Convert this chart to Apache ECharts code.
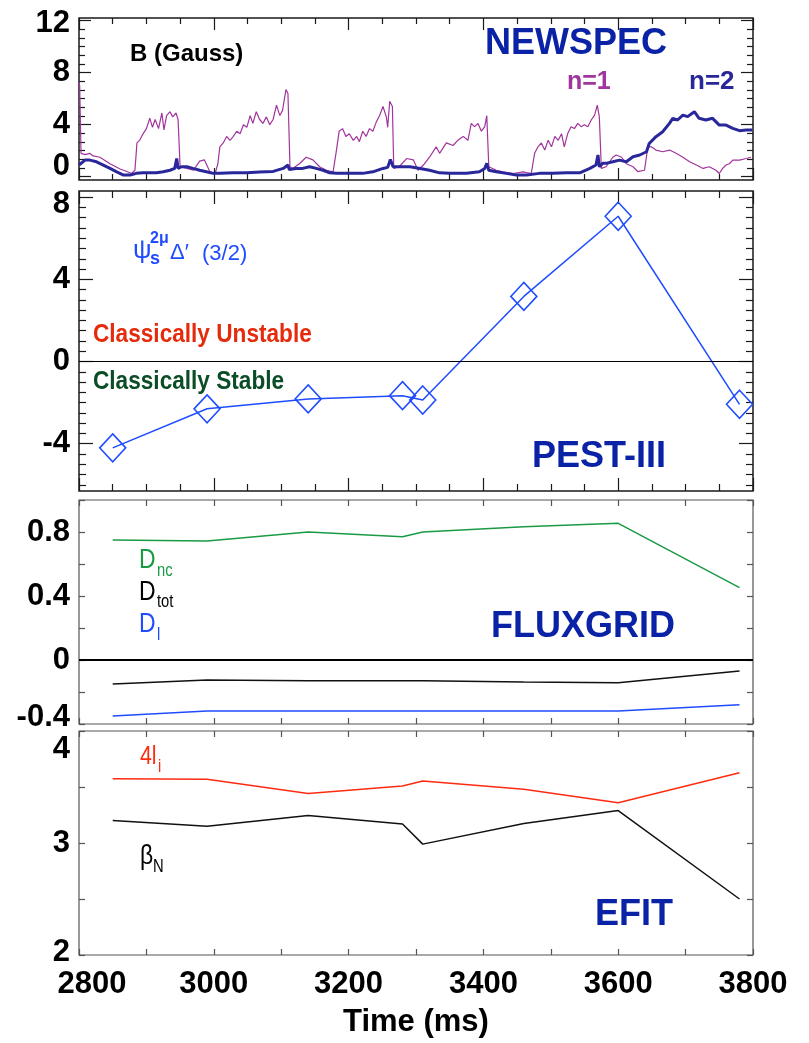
<!DOCTYPE html>
<html><head><meta charset="utf-8">
<script src="https://cdn.jsdelivr.net/npm/echarts@6/dist/echarts.min.js"></script>
<style>html,body{margin:0;padding:0;background:#fff}#c{width:809px;height:1043px}</style>
</head><body><div id="c"></div>
<script>
const SANS = "'Liberation Sans',Arial,Helvetica,sans-serif";

// ---------- Panel 1: NEWSPEC, B (Gauss) ----------
const n1Time = [2800,2801,2803,2809,2816,2821,2831,2846,2861,2871,2878,2883,2886,2890,2895,2900,2905,2909,2913,2918,2923,2926,2930,2935,2939,2944,2947,2950,2960,2970,2979,2986,2994,3002,3006,3009,3014,3019,3024,3029,3034,3039,3044,3049,3054,3058,3063,3068,3073,3078,3083,3088,3093,3098,3102,3107,3110,3113,3117,3127,3137,3147,3157,3167,3177,3182,3186,3191,3196,3201,3207,3212,3216,3221,3226,3231,3236,3241,3246,3251,3256,3258,3261,3265,3267,3275,3286,3296,3303,3311,3320,3330,3335,3345,3355,3362,3370,3377,3382,3387,3392,3397,3402,3405,3408,3419,3429,3444,3459,3471,3476,3481,3486,3491,3496,3501,3506,3511,3516,3520,3525,3530,3535,3540,3545,3550,3555,3560,3565,3569,3572,3575,3582,3592,3597,3605,3612,3622,3629,3639,3644,3649,3656,3666,3676,3686,3696,3706,3716,3726,3735,3745,3750,3755,3760,3765,3770,3780,3790,3797];
const n1Val = [7.3,7.0,1.8,1.7,1.8,1.6,1.5,1.0,0.6,0.4,0.25,0.5,2.6,2.8,3.3,3.7,4.5,3.8,4.4,3.7,4.9,3.6,4.7,5.0,4.6,4.9,4.4,0.77,0.64,0.5,1.2,1.3,0.4,0.25,1.0,2.3,2.6,3.1,2.8,3.1,3.5,3.3,4.0,3.8,4.7,4.1,5.0,4.4,4.1,4.6,4.0,4.4,5.5,4.7,5.1,6.7,6.4,0.77,0.64,1.0,1.5,1.3,0.77,0.5,0.38,2.05,3.5,3.7,3.1,3.3,2.8,3.1,2.7,3.5,3.1,3.7,3.5,4.2,4.7,5.4,4.6,3.8,5.8,5.4,0.64,0.77,1.4,1.3,0.5,0.9,1.5,2.3,1.8,2.6,2.4,2.8,3.1,2.8,4.1,3.85,4.1,3.5,3.85,4.7,0.77,0.5,0.38,0.25,0.38,0.25,1.8,2.3,2.6,2.05,2.8,2.3,3.1,2.8,3.3,2.3,3.3,3.85,3.7,4.1,3.85,4.0,3.85,4.36,4.74,5.5,4.6,0.64,0.77,1.5,1.67,1.5,1.0,0.77,0.4,0.5,2.3,2.3,2.05,1.92,2.05,1.8,1.5,1.15,0.9,0.64,0.77,0.5,0.25,0.64,0.9,1.0,1.28,1.28,1.4,1.5];
const n2Time = [2800,2801,2809,2816,2826,2836,2846,2856,2866,2876,2885,2895,2905,2915,2925,2935,2942,2945,2947,2952,2960,2969,2979,2989,2999,3009,3028,3049,3068,3088,3103,3110,3112,3122,3132,3142,3152,3162,3172,3182,3201,3221,3236,3251,3258,3262,3266,3275,3291,3306,3320,3335,3350,3375,3394,3402,3405,3408,3419,3434,3449,3464,3483,3503,3523,3543,3558,3567,3570,3572,3577,3582,3592,3602,3612,3622,3632,3642,3646,3656,3666,3676,3681,3688,3696,3703,3713,3720,3730,3740,3750,3760,3770,3780,3790,3799];
const n2Val = [0.9,1.0,1.28,1.28,1.15,0.9,0.64,0.38,0.13,0.13,0.26,0.3,0.3,0.3,0.38,0.5,0.64,1.4,0.64,0.77,0.77,0.64,0.5,0.38,0.26,0.26,0.3,0.3,0.36,0.41,0.64,0.9,0.56,0.64,0.64,0.77,0.64,0.5,0.3,0.26,0.26,0.26,0.38,0.64,0.72,1.33,0.77,0.77,0.77,0.64,0.5,0.3,0.26,0.26,0.38,0.64,1.03,0.5,0.38,0.26,0.13,0.13,0.26,0.26,0.3,0.3,0.64,0.9,1.67,0.77,1.03,1.03,1.15,1.28,1.15,1.54,1.67,1.92,2.56,3.08,3.46,4.1,4.49,4.36,4.74,4.62,5.0,4.49,4.36,4.49,3.97,3.97,3.72,3.54,3.59,3.59];

// ---------- Panels 2-4 share the analysis times ----------
const runTime = [2850,2990,3140,3280,3310,3460,3600,3780];
// PEST-III  psi_s^{2mu} Delta' (3/2)
const pestVal = [-4.2,-2.3,-1.82,-1.66,-1.87,3.17,7.07,-2.08];
// FLUXGRID
const dncVal  = [0.75,0.744,0.80,0.77,0.80,0.833,0.854,0.452];
const dtotVal = [-0.15,-0.125,-0.129,-0.129,-0.129,-0.1375,-0.142,-0.069];
const dlVal   = [-0.35,-0.319,-0.319,-0.319,-0.319,-0.319,-0.319,-0.279];
// EFIT
const li4Val  = [3.574,3.57,3.443,3.509,3.553,3.479,3.36,3.628];
const betaVal = [3.2,3.15,3.246,3.17,2.99,3.175,3.29,2.5];

// ---------- Tick labels ----------
const xTickLabels = [2800,3000,3200,3400,3600,3800];
const p1YLabels = [0,4,8,12];
const p2YLabels = [-4,0,4,8];
const p3YLabels = [-0.4,0,0.4,0.8];
const p4YLabels = [2,3,4];

const zip = (a,b) => a.map((t,i)=>[t,b[i]]);
const range = (a,b,s) => { const r=[]; const n=Math.round((b-a)/s); for(let k=0;k<=n;k++) r.push(+(a+k*s).toFixed(4)); return r; };
const without = (arr, ex) => arr.filter(v => !ex.some(e => Math.abs(e-v)<1e-6));

const grids = [
  {left:79, width:674, top:18,  height:162, show:true, borderColor:'#1a1a1a', borderWidth:1.5},
  {left:79, width:674, top:191, height:300, show:true, borderColor:'#1a1a1a', borderWidth:1.5},
  {left:79, width:674, top:500, height:224, show:true, borderColor:'#555', borderWidth:1.2},
  {left:79, width:674, top:731, height:224, show:true, borderColor:'#555', borderWidth:1.2}
].map(g => Object.assign(g, {outerBoundsMode:'none', containLabel:false, backgroundColor:'rgba(0,0,0,0)'}));

const xAxis = [], yAxis = [];
function baseAxis(gi, pos, min, max, ticks, len, color) {
  return {type:'value', gridIndex:gi, position:pos, min, max,
    axisLine:{show:false, onZero:false}, splitLine:{show:false},
    axisTick:{show:true, inside:true, length:len, customValues:ticks, lineStyle:{color, width:1.2}},
    axisLabel:{show:false}};
}
function addX(gi, pos, ticks, len, color, extra) { xAxis.push(Object.assign(baseAxis(gi,pos,2800,3800,ticks,len,color), extra||{})); return xAxis.length-1; }
function addY(gi, pos, min, max, ticks, len, color, extra) { yAxis.push(Object.assign(baseAxis(gi,pos,min,max,ticks,len,color), extra||{})); return yAxis.length-1; }

const LBL = {fontFamily:SANS, fontWeight:'bold', fontSize:31, color:'#000'};
function yLabel(labels, shifts) {
  const rich = {};
  const keys = Object.keys(shifts);
  keys.forEach((k,i) => {
    const d = shifts[k];
    rich['s'+i] = Object.assign({}, LBL, {padding: d>0 ? [2*d,0,0,0] : [0,0,-2*d,0]});
  });
  return Object.assign({show:true, customValues:labels, margin:9,
    formatter: v => { const i = keys.findIndex(k => Math.abs(+k - v) < 1e-6); return i<0 ? String(v) : '{s'+i+'|'+v+'}'; },
    rich}, LBL);
}

// Panel 1 axes
const x200 = range(2800,3800,200), x50 = without(range(2800,3800,50), x200), x100 = range(2800,3800,100);
const X0 = addX(0,'bottom',x200,12,'#1a1a1a'); addX(0,'bottom',x50,6,'#1a1a1a'); addX(0,'top',x200,12,'#1a1a1a'); addX(0,'top',x50,6,'#1a1a1a');
const p1Maj = [0,4,8,12], p1Min = without(range(0,12,2/3), p1Maj);
const Y0 = addY(0,'left',-0.25,12.2,p1Maj,12,'#1a1a1a',{axisLabel:yLabel(p1YLabels,{0:-10.5,12:3})});
addY(0,'left',-0.25,12.2,p1Min,6,'#1a1a1a'); addY(0,'right',-0.25,12.2,p1Maj,12,'#1a1a1a'); addY(0,'right',-0.25,12.2,p1Min,6,'#1a1a1a');

// Panel 2 axes
const X1 = addX(1,'bottom',x200,13,'#1a1a1a'); addX(1,'bottom',x50,7,'#1a1a1a'); addX(1,'top',x200,13,'#1a1a1a'); addX(1,'top',x50,7,'#1a1a1a');
const p2Maj = [-4,0,4,8], p2Min = without(range(-6,8,0.5), p2Maj);
const Y1 = addY(1,'left',-6.3,8.3,p2Maj,14,'#1a1a1a',{axisLabel:yLabel(p2YLabels,{8:7})});
addY(1,'left',-6.3,8.3,p2Min,7,'#1a1a1a'); addY(1,'right',-6.3,8.3,p2Maj,14,'#1a1a1a'); addY(1,'right',-6.3,8.3,p2Min,7,'#1a1a1a');

// Panel 3 axes
const X2 = addX(2,'bottom',x100,6,'#555'); addX(2,'top',x100,6,'#555');
const p3T = range(-0.4,1.0,0.2);
const Y2 = addY(2,'left',-0.4,1.0,p3T,6,'#555',{axisLabel:yLabel(p3YLabels,{'-0.4':-7})});
addY(2,'right',-0.4,1.0,p3T,6,'#555');

// Panel 4 axes
const X3 = addX(3,'bottom',x100,6,'#555',{
  axisLabel:Object.assign({show:true, customValues:xTickLabels, margin:14,
    formatter: v => v===2800 ? '{f|'+v+'}' : String(v),
    rich:{f:Object.assign({}, LBL, {padding:[0,0,0,26]})}}, LBL),
  name:'Time (ms)', nameLocation:'middle', nameGap:52,
  nameTextStyle:{fontFamily:SANS, fontWeight:'bold', fontSize:31, color:'#000'}
});
addX(3,'top',x100,6,'#555');
const p4T = range(2,4,0.5);
const Y3 = addY(3,'left',2,4,p4T,6,'#555',{axisLabel:yLabel(p4YLabels,{4:18,2:-3})});
addY(3,'right',2,4,p4T,6,'#555');

const line = (name, xi, yi, data, color, width, extra) => Object.assign({
  name, type:'line', xAxisIndex:xi, yAxisIndex:yi, data, showSymbol:false, symbol:'none', clip:true,
  lineStyle:{color, width}, itemStyle:{color}, animation:false, silent:true}, extra||{});
const zeroLine = w => ({silent:true, symbol:'none', label:{show:false}, lineStyle:{color:'#000', width:w, type:'solid'}, data:[{yAxis:0}], animation:false});

const series = [
  line('n=1', X0, Y0, zip(n1Time,n1Val), '#a1359d', 1.2),
  line('n=2', X0, Y0, zip(n2Time,n2Val), '#29279a', 3),
  line('PEST', X1, Y1, zip(runTime,pestVal), '#1f4cff', 1.5, {
    showSymbol:true, symbol:'diamond', symbolSize:[26,28],
    itemStyle:{color:'rgba(0,0,0,0)', borderColor:'#1f4cff', borderWidth:1.6},
    markLine: zeroLine(1.2)}),
  line('Dnc', X2, Y2, zip(runTime,dncVal), '#1a9a45', 1.5, {markLine: zeroLine(1.8)}),
  line('Dtot', X2, Y2, zip(runTime,dtotVal), '#111', 1.5),
  line('Dl', X2, Y2, zip(runTime,dlVal), '#1f4cff', 1.5),
  line('4li', X3, Y3, zip(runTime,li4Val), '#ff2b10', 1.5),
  line('betaN', X3, Y3, zip(runTime,betaVal), '#111', 1.5)
];

const T = (x,y,text,font,fill,sx) => ({type:'text', x, y, scaleX: sx||1, silent:true, z:100,
  style:{text, font, fill, align:'left', verticalAlign:'middle'}});
const navy = '#0a22a5', blue = '#1f4cff';
const N = 0.82;
const graphic = [
  T(130,54,'B (Gauss)','bold 24px '+SANS,'#000'),
  T(485,44,'NEWSPEC','bold 36px '+SANS,navy),
  T(567,82,'n=1','bold 25px '+SANS,'#a1359d'),
  T(689,82,'n=2','bold 26px '+SANS,'#29279a'),
  T(133,251,'ψ','26px '+SANS,blue),
  T(150,239,'2μ','bold 16px '+SANS,blue),
  T(150,259,'s','bold 18px '+SANS,blue),
  T(170,253,'Δ′','22px '+SANS,blue),
  T(202,254,'(3/2)','22px '+SANS,blue),
  T(93,335,'Classically Unstable','bold 26px '+SANS,'#e62b0c',0.87),
  T(93,382,'Classically Stable','bold 26px '+SANS,'#0b4d26',0.87),
  T(532,457,'PEST-III','bold 36px '+SANS,navy),
  T(139,560,'D','28px '+SANS,'#1a9a45',N), T(157,571,'nc','18px '+SANS,'#1a9a45',N),
  T(139,592,'D','28px '+SANS,'#000',N), T(157,602,'tot','18px '+SANS,'#000',N),
  T(139,624,'D','28px '+SANS,blue,N), T(157,635,'l','18px '+SANS,blue,N),
  T(491,627,'FLUXGRID','bold 36px '+SANS,navy),
  T(140,757,'4l','26px '+SANS,'#ff2b10',N), T(158,767,'i','18px '+SANS,'#ff2b10',N),
  T(140,856,'β','28px '+SANS,'#000',N), T(153,867,'N','18px '+SANS,'#000',N),
  T(595,915,'EFIT','bold 36px '+SANS,navy)
];

const chart = echarts.init(document.getElementById('c'), null, {renderer:'canvas'});
chart.setOption({animation:false, backgroundColor:'#fff', grid:grids, xAxis, yAxis, series, graphic});
</script></body></html>
